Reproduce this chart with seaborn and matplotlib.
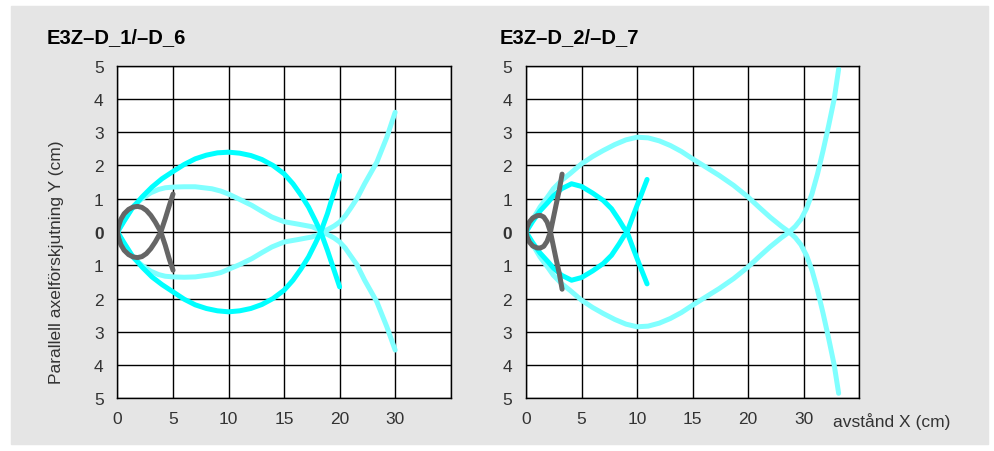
import numpy as np
import matplotlib
matplotlib.use("Agg")
import matplotlib.pyplot as plt
import seaborn as sns
from matplotlib.patches import Rectangle

# x axis: 0-20 cm linear, then one grid cell per 10 cm
cm_ticks = [0, 5, 10, 15, 20, 30, 40]
x_tick_labels = ["0", "5", "10", "15", "20", "30", ""]
y_ticks = list(range(-5, 6))
y_tick_labels = [str(abs(v)) for v in y_ticks]

titles = ["E3Z\u2013D_1/\u2013D_6", "E3Z\u2013D_2/\u2013D_7"]
y_label = "Parallell axelförskjutning Y (cm)"
x_label = "avstånd X (cm)"

LIGHT = "#80ffff"
BRIGHT = "#00ffff"
GRAY = "#666666"

# ---- left chart (E3Z-D_1 / D_6) ----
l_light_x = [0, 0.5, 1.0, 1.5, 2.2, 3.0, 3.7, 4.3, 5.0, 6.0, 7.0, 8.5, 9.3, 10.0, 11.0, 12.1, 13.0,
             13.9, 15.0, 16.2, 17.5, 18.0, 18.4, 18.9, 19.5, 20.0, 21.0, 22.0, 23.1, 24.5, 26.7, 28.5, 30.0]
l_light_up_y = [0, 0.3, 0.57, 0.8, 1.0, 1.18, 1.28, 1.33, 1.35, 1.36, 1.36, 1.3, 1.23, 1.14, 0.98, 0.8, 0.62,
                0.45, 0.31, 0.24, 0.16, 0.09, 0.03, 0.07, 0.18, 0.3, 0.48, 0.72, 1.0, 1.45, 2.1, 2.85, 3.6]
l_light_lo_y = [0, -0.3, -0.57, -0.8, -1.0, -1.18, -1.28, -1.33, -1.35, -1.36, -1.35, -1.28, -1.22, -1.12, -0.98, -0.8, -0.62,
                -0.45, -0.3, -0.23, -0.15, -0.09, -0.03, -0.07, -0.18, -0.3, -0.48, -0.72, -0.98, -1.45, -2.1, -2.85, -3.55]

l_bright_x = [0, 0.6, 1.3, 2.2, 3.1, 4.0, 5.0, 6.0, 7.0, 8.0, 9.0, 10.0, 11.0, 12.0, 13.0, 14.0, 15.0,
              15.8, 16.5, 17.2, 17.8, 18.3, 18.9, 19.4, 20.0]
l_bright_up_y = [0, 0.33, 0.7, 1.05, 1.35, 1.6, 1.82, 2.03, 2.2, 2.31, 2.38, 2.4, 2.37, 2.3, 2.18, 2.0, 1.75,
                 1.45, 1.12, 0.75, 0.35, 0.0, -0.55, -1.05, -1.65]
l_bright_lo_y = [0, -0.33, -0.7, -1.05, -1.35, -1.58, -1.8, -2.02, -2.19, -2.3, -2.37, -2.4, -2.37, -2.3, -2.18, -2.0, -1.75,
                 -1.45, -1.12, -0.75, -0.35, 0.0, 0.55, 1.1, 1.7]

l_gray_x = [0, 0.1, 0.3, 0.6, 1.0, 1.4, 1.8, 2.2, 2.6, 3.0, 3.4, 3.9, 4.3, 4.65, 5.0]
l_gray_up_y = [0, 0.18, 0.38, 0.55, 0.68, 0.75, 0.77, 0.74, 0.65, 0.5, 0.3, 0.0, -0.4, -0.8, -1.15]
l_gray_lo_y = [0, -0.18, -0.38, -0.55, -0.68, -0.75, -0.77, -0.74, -0.65, -0.5, -0.3, 0.0, 0.4, 0.78, 1.14]

# ---- right chart (E3Z-D_2 / D_7) ----
r_light_x = [0, 0.5, 1.26, 2.0, 2.46, 3.2, 3.95, 5.0, 6.0, 6.95, 8.0, 9.0, 10.0, 11.0, 12.0, 13.0, 14.0,
             15.0, 16.2, 17.4, 18.7, 20.0, 22.0, 24.0, 26.0, 27.4, 28.5, 29.5, 30.5, 31.5, 32.5, 33.5,
             34.5, 35.5, 36.3]
r_light_up_y = [0, 0.32, 0.75, 1.08, 1.3, 1.55, 1.75, 2.05, 2.27, 2.45, 2.63, 2.77, 2.85, 2.83, 2.74, 2.6, 2.42,
                2.2, 1.95, 1.7, 1.4, 1.05, 0.74, 0.44, 0.17, 0.0, -0.17, -0.38, -0.7, -1.15, -1.75, -2.45,
                -3.2, -4.0, -4.85]
r_light_lo_y = [0, -0.32, -0.75, -1.08, -1.3, -1.55, -1.75, -2.05, -2.27, -2.45, -2.63, -2.77, -2.85, -2.83, -2.74, -2.6, -2.42,
                -2.2, -1.95, -1.7, -1.4, -1.05, -0.74, -0.44, -0.17, 0.0, 0.17, 0.38, 0.7, 1.15, 1.75, 2.45,
                3.2, 4.0, 4.9]

r_bright_x = [0, 0.6, 1.26, 2.0, 2.46, 3.2, 4.1, 5.0, 6.0, 6.95, 7.7, 8.4, 8.8, 9.1, 9.6, 10.2, 10.9]
r_bright_up_y = [0, 0.32, 0.63, 0.9, 1.08, 1.3, 1.45, 1.37, 1.17, 0.95, 0.7, 0.35, 0.13, 0.0, -0.45, -0.97, -1.56]
r_bright_lo_y = [0, -0.32, -0.63, -0.9, -1.08, -1.3, -1.45, -1.37, -1.17, -0.95, -0.7, -0.35, -0.13, 0.0, 0.45, 0.97, 1.58]

r_gray_x = [0, 0.1, 0.3, 0.6, 1.0, 1.3, 1.6, 1.9, 2.2, 2.45, 2.7, 3.0, 3.25]
r_gray_up_y = [0, 0.15, 0.3, 0.42, 0.49, 0.5, 0.45, 0.3, 0.0, -0.4, -0.8, -1.25, -1.72]
r_gray_lo_y = [0, -0.15, -0.3, -0.42, -0.48, -0.48, -0.43, -0.28, 0.0, 0.4, 0.8, 1.27, 1.74]


def pos(x):
    return np.interp(x, cm_ticks, range(len(cm_ticks)))


sns.set_theme(style="white")
plt.rcParams["font.family"] = ["Liberation Sans", "DejaVu Sans"]

fig = plt.figure(figsize=(9.95, 4.52), dpi=100)
fig.patch.set_facecolor("white")
fig.patches.append(Rectangle((11 / 995, 1 - 445 / 452), 977 / 995, 438 / 452,
                             transform=fig.transFigure, color="#e5e5e5", zorder=-10))

ax1 = fig.add_axes([117.5 / 995, 1 - 399.3 / 452, 333.2 / 995, 332.6 / 452])
ax2 = fig.add_axes([526 / 995, 1 - 399.3 / 452, 333.2 / 995, 332.6 / 452])

curves = [
    (ax1, [(l_light_x, l_light_up_y, LIGHT), (l_light_x, l_light_lo_y, LIGHT),
           (l_bright_x, l_bright_up_y, BRIGHT), (l_bright_x, l_bright_lo_y, BRIGHT),
           (l_gray_x, l_gray_up_y, GRAY), (l_gray_x, l_gray_lo_y, GRAY)]),
    (ax2, [(r_light_x, r_light_up_y, LIGHT), (r_light_x, r_light_lo_y, LIGHT),
           (r_bright_x, r_bright_up_y, BRIGHT), (r_bright_x, r_bright_lo_y, BRIGHT),
           (r_gray_x, r_gray_up_y, GRAY), (r_gray_x, r_gray_lo_y, GRAY)]),
]

for ax, lines in curves:
    ax.set_facecolor("white")
    for xs, ys, c in lines:
        sns.lineplot(x=pos(xs), y=ys, sort=False, estimator=None, ax=ax, color=c,
                     linewidth=3.6, solid_capstyle="round", solid_joinstyle="round")
    ax.set_xlim(0, 6)
    ax.set_ylim(-5, 5)
    ax.set_xticks(range(7))
    ax.set_xticklabels(x_tick_labels)
    ax.set_yticks(y_ticks)
    ax.set_yticklabels(y_tick_labels)
    ax.get_yticklabels()[5].set_fontweight("bold")
    ax.tick_params(length=0, labelsize=12.5, labelcolor="#333333")
    ax.tick_params(axis="y", pad=10)
    ax.tick_params(axis="x", pad=9)
    ax.set_axisbelow(True)
    ax.grid(True, color="black", linewidth=1.0)
    for s in ax.spines.values():
        s.set_color("black")
        s.set_linewidth(1.0)
    ax.set_xlabel("")
    ax.set_ylabel("")

fig.text(47 / 995, 1 - 38 / 452, titles[0], fontsize=14.5, fontweight="bold", va="center", color="black")
fig.text(500 / 995, 1 - 38 / 452, titles[1], fontsize=14.5, fontweight="bold", va="center", color="black")
fig.text(57 / 995, 1 - 262 / 452, y_label, fontsize=12.5, rotation=90, va="center", ha="center", color="#333333")
fig.text(833 / 995, 1 - 422 / 452, x_label, fontsize=12.5, va="center", color="#333333")

fig.savefig("out.png", dpi=100)
